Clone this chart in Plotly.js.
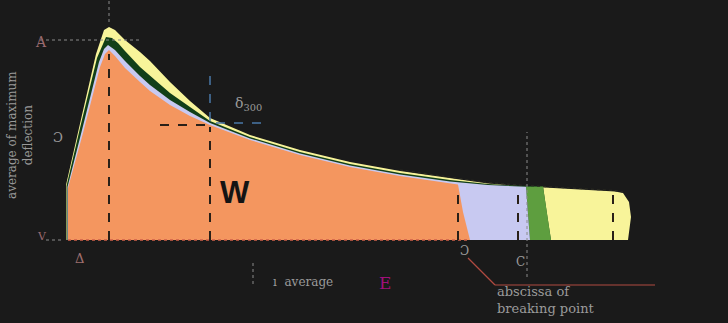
<!DOCTYPE html>
<html><head><meta charset="utf-8">
<script src="https://cdn.plot.ly/plotly-3.0.1.min.js"></script>
<style>html,body{margin:0;padding:0;background:#1a1a1a;}#chart{width:728px;height:323px;}</style>
</head><body><div id="chart"></div>
<script>
// Load–deflection schematic: each zone is the area under its own curve
const orangeX   = [0, 0, 0.15, 0.32, 0.37, 0.41, 0.47, 0.57, 0.72, 0.82, 1.02, 1.22, 1.42, 1.82, 2.32, 2.82, 3.32, 3.82, 3.90, 3.95, 4.02];
const orangeY   = [0, 2.6, 5.35, 8.65, 9.3, 9.5, 9.2, 8.6, 7.9, 7.45, 6.75, 6.2, 5.75, 5.0, 4.25, 3.65, 3.2, 2.85, 2.78, 1.4, 0];
const lavenderX = [-0.005, -0.005, 0.14, 0.31, 0.36, 0.40, 0.47, 0.57, 0.72, 0.82, 1.02, 1.22, 1.42, 1.82, 2.32, 2.82, 3.32, 3.82, 4.20, 4.50, 4.58, 4.60, 4.62];
const lavenderY = [0, 2.65, 5.5, 8.9, 9.55, 9.75, 9.5, 8.95, 8.2, 7.75, 7.0, 6.4, 5.85, 5.08, 4.33, 3.73, 3.28, 2.93, 2.75, 2.68, 2.66, 1.3, 0];
const greenX    = [-0.015, -0.015, 0.12, 0.29, 0.38, 0.44, 0.50, 0.57, 0.72, 0.82, 1.02, 1.22, 1.42, 1.82, 2.32, 2.82, 3.32, 3.82, 4.20, 4.50, 4.75, 4.79, 4.83];
const greenY    = [0, 2.7, 5.6, 9.1, 10.15, 10.1, 9.85, 9.45, 8.65, 8.2, 7.35, 6.65, 5.95, 5.15, 4.4, 3.8, 3.35, 3.0, 2.8, 2.72, 2.68, 1.3, 0];
const yellowX   = [-0.02, -0.02, 0.11, 0.28, 0.36, 0.41, 0.47, 0.57, 0.72, 0.82, 1.02, 1.22, 1.42, 1.82, 2.32, 2.82, 3.32, 3.82, 4.20, 4.50, 5.00, 5.47, 5.55, 5.61, 5.63, 5.60];
const yellowY   = [0, 2.75, 5.6, 9.3, 10.5, 10.65, 10.5, 10.0, 9.4, 8.95, 7.9, 6.95, 6.1, 5.25, 4.5, 3.9, 3.45, 3.1, 2.82, 2.7, 2.55, 2.42, 2.35, 1.9, 1.15, 0];

// guide lines [x0, y0, x1, y1]
const darkGuides = [[0.41, 0, 0.41, 9.3], [1.42, 0, 1.42, 5.65], [0.92, 5.75, 1.42, 5.75], [3.90, 0, 3.90, 2.7], [4.50, 0, 4.50, 2.6], [5.45, 0, 5.45, 2.35]];
const blueGuides = [[1.42, 5.95, 1.42, 8.6], [1.48, 5.85, 2.0, 5.85]];
const greyGuides = [[0.41, 10.9, 0.41, 12], [-0.28, 10.0, 0.72, 10.0], [4.59, -1.85, 4.59, 5.4], [1.85, -1.15, 1.85, -2.35], [-0.22, 0, -0.05, 0]];
const leader = [[4.0, -0.9, 4.27, -2.25], [4.27, -2.25, 5.87, -2.25]];

function closed(x, y){ return {x: x.concat([x[0]]), y: y.concat([0])}; }
const traces = [];
function area(x, y, color){
  const c = closed(x, y);
  traces.push({type:'scatter', mode:'lines', x:c.x, y:c.y, fill:'toself', fillcolor:color, line:{width:0, color:color}, hoverinfo:'skip', showlegend:false});
}
area(yellowX, yellowY, '#f8f49a');
area(greenX, greenY, '#123f18');
// light green strip: part of green zone right of the lavender zone
(function(){
  const lx = lavenderX[lavenderX.length-3];
  const xs = [], ys = [];
  for (let i = 0; i < greenX.length; i++) if (greenX[i] >= lx) { xs.push(greenX[i]); ys.push(greenY[i]); }
  const bx = lavenderX.slice(-3).reverse(), by = lavenderY.slice(-3).reverse();
  traces.push({type:'scatter', mode:'lines', x:xs.concat(bx), y:ys.concat(by), fill:'toself', fillcolor:'#5e9e3f', line:{width:0}, hoverinfo:'skip', showlegend:false});
})();
area(lavenderX, lavenderY, '#c8c9f1');
area(orangeX, orangeY, '#f4965f');
// dark outline along the top of the flat tail
traces.push({type:'scatter', mode:'lines', x:yellowX.slice(16, 23), y:yellowY.slice(16, 23).map(v => v + 0.05), line:{color:'#2a2a22', width:1.2, dash:'dot'}, hoverinfo:'skip', showlegend:false});
// baseline
traces.push({type:'scatter', mode:'lines', x:[orangeX[0], orangeX[orangeX.length-1]], y:[0,0], line:{color:'#d0604a', width:1.5, dash:'dot'}, hoverinfo:'skip', showlegend:false});
function segs(list, style){
  list.forEach(s => traces.push({type:'scatter', mode:'lines', x:[s[0], s[2]], y:[s[1], s[3]], line:style, hoverinfo:'skip', showlegend:false}));
}
segs(darkGuides, {color:'#2a2018', width:2, dash:'dash'});
segs(blueGuides, {color:'#4a78a8', width:1.5, dash:'dash'});
segs(greyGuides, {color:'#8a8a8a', width:1, dash:'dot'});
segs(leader, {color:'#b04a40', width:1.2});

const grey = '#9a9a9a';
const annotations = [
  {x:-0.27, y:9.9, text:'A', font:{size:14, color:'#9a6a70', family:'DejaVu Serif'}},
  {x:-0.10, y:5.15, text:'Ɔ', font:{size:13, color:grey, family:'DejaVu Serif'}},
  {x:-0.26, y:0.2, text:'V', font:{size:11, color:'#9a6a70', family:'DejaVu Serif'}},
  {x:0.11, y:-0.9, text:'Δ', font:{size:13, color:'#a07070', family:'DejaVu Serif'}},
  {x:1.67, y:2.4, text:'<b>W</b>', font:{size:31, color:'#141414', family:'Liberation Sans'}},
  {x:1.80, y:6.8, text:'δ<sub>300</sub>', font:{size:14, color:grey, family:'DejaVu Serif'}},
  {x:2.35, y:-2.1, text:'ı  average', font:{size:12, color:grey, family:'DejaVu Serif'}},
  {x:3.17, y:-2.15, text:'E', font:{size:17, color:'#a0107a', family:'DejaVu Serif'}},
  {x:3.96, y:-0.55, text:'Ɔ', font:{size:12, color:grey, family:'DejaVu Serif'}},
  {x:4.52, y:-1.1, text:'C', font:{size:12, color:grey, family:'DejaVu Serif'}},
  {x:4.27, y:-3.0, text:'abscissa of<br>breaking point', xanchor:'left', align:'left', font:{size:13, color:grey, family:'DejaVu Serif'}},
  {x:-0.48, y:5.25, text:'average of maximum<br>deflection', textangle:-90, font:{size:12, color:grey, family:'DejaVu Serif'}}
].map(a => Object.assign({xref:'x', yref:'y', showarrow:false}, a));

Plotly.newPlot('chart', traces, {
  width:728, height:323,
  margin:{l:0, r:0, t:0, b:0},
  paper_bgcolor:'#1a1a1a', plot_bgcolor:'#1a1a1a',
  xaxis:{range:[-0.68, 6.60], visible:false, fixedrange:true},
  yaxis:{range:[-4.15, 12.0], visible:false, fixedrange:true},
  showlegend:false,
  annotations:annotations
}, {displayModeBar:false, staticPlot:true});
</script></body></html>
